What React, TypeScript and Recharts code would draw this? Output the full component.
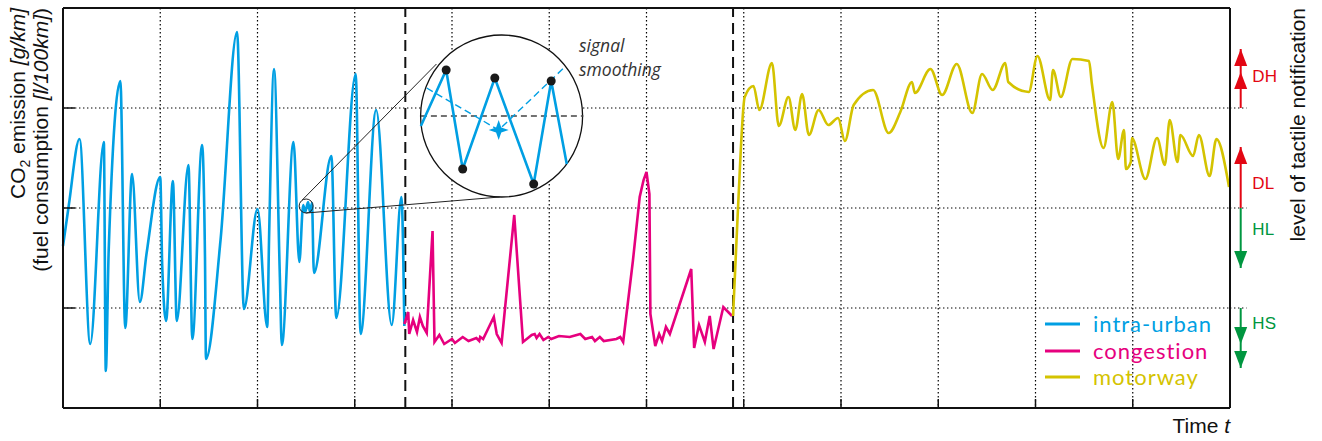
import React from 'react';
import {
  ComposedChart,
  Line,
  Scatter,
  XAxis,
  YAxis,
  CartesianGrid,
  ReferenceLine,
  ReferenceDot,
  Legend,
} from 'recharts';

const X_TICKS = [0, 1, 2, 3, 4, 5, 6, 7, 8, 9, 10, 11, 12];
const Y_TICKS = [0, 1, 2, 3, 4];

const SERIES_NAMES = ['intra-urban', 'congestion', 'motorway'];
const SERIES_COLORS = ['#009fe3', '#e6007e', '#d4c300'];

// [time, level]
const intraUrban: [number, number][] = [
  [0.0, 1.62], [0.06, 2.03], [0.17, 2.69], [0.28, 0.64], [0.42, 2.66], [0.44, 0.37], [0.47, 1.58],
  [0.59, 3.27], [0.64, 0.8], [0.71, 2.34], [0.79, 1.06], [0.86, 1.55], [1.0, 2.31], [1.02, 1.43],
  [1.06, 0.87], [1.13, 2.27], [1.17, 0.87], [1.29, 2.43], [1.33, 0.69], [1.43, 2.63], [1.46, 1.51],
  [1.47, 0.49], [1.62, 1.68], [1.79, 3.76], [1.86, 0.99], [2.0, 1.99], [2.1, 0.81], [2.12, 1.75],
  [2.17, 3.39], [2.23, 1.31], [2.25, 0.63], [2.37, 2.66], [2.43, 1.46], [2.47, 2.03], [2.49, 1.96],
  [2.52, 2.06], [2.54, 1.96], [2.56, 2.05], [2.58, 1.35], [2.76, 2.52], [2.81, 0.9], [3.01, 3.34],
  [3.06, 0.74], [3.22, 2.98], [3.38, 0.83], [3.48, 2.11], [3.51, 0.82],
];

const congestion: [number, number][] = [
  [3.51, 0.84], [3.55, 0.96], [3.56, 0.74], [3.6, 0.88], [3.64, 0.76], [3.67, 0.91], [3.7, 0.82],
  [3.74, 0.75], [3.8, 1.77], [3.82, 0.66], [3.87, 0.73], [3.92, 0.64], [4.0, 0.69], [4.03, 0.65],
  [4.11, 0.71], [4.17, 0.67], [4.25, 0.7], [4.28, 0.67], [4.29, 0.71], [4.32, 0.69], [4.37, 0.79],
  [4.43, 0.91], [4.46, 0.74], [4.51, 0.65], [4.64, 1.93], [4.73, 0.66], [4.82, 0.73], [4.85, 0.74],
  [4.87, 0.7], [4.9, 0.74], [4.94, 0.68], [4.99, 0.71], [5.02, 0.69], [5.1, 0.72], [5.21, 0.71],
  [5.32, 0.74], [5.37, 0.69], [5.44, 0.71], [5.47, 0.67], [5.52, 0.71], [5.56, 0.67], [5.69, 0.69],
  [5.73, 0.71], [5.76, 0.66], [5.86, 1.47], [5.93, 2.11], [5.97, 2.28], [6.0, 2.36], [6.03, 2.14],
  [6.04, 0.94], [6.09, 0.62], [6.13, 0.74], [6.16, 0.67], [6.2, 0.81], [6.24, 0.74], [6.46, 1.39],
  [6.49, 0.6], [6.54, 0.83], [6.6, 0.66], [6.65, 0.92], [6.69, 0.59], [6.79, 1.01], [6.88, 0.92],
];

const motorway: [number, number][] = [
  [6.89, 0.92], [6.94, 1.98], [7.01, 3.11], [7.1, 3.22], [7.16, 2.98], [7.29, 3.45], [7.36, 2.82],
  [7.46, 3.11], [7.53, 2.78], [7.6, 3.14], [7.67, 2.73], [7.77, 2.98], [7.87, 2.83], [7.97, 2.9],
  [8.04, 2.67], [8.13, 3.03], [8.33, 3.18], [8.49, 2.75], [8.61, 2.96], [8.73, 3.26], [8.76, 3.15],
  [8.92, 3.39], [9.04, 3.13], [9.19, 3.44], [9.35, 2.95], [9.45, 3.34], [9.56, 3.18], [9.69, 3.45],
  [9.72, 3.26], [9.93, 3.16], [10.02, 3.52], [10.15, 3.08], [10.18, 3.38], [10.26, 3.11],
  [10.38, 3.49], [10.55, 3.47], [10.58, 3.24], [10.7, 2.6], [10.79, 3.06], [10.85, 2.49],
  [10.91, 2.78], [10.93, 2.39], [10.98, 2.46], [10.99, 2.7], [11.13, 2.29], [11.25, 2.7],
  [11.33, 2.43], [11.38, 2.88], [11.46, 2.46], [11.49, 2.73], [11.62, 2.52], [11.68, 2.73],
  [11.79, 2.32], [11.86, 2.69], [11.99, 2.21],
];

const SECTION_BOUNDS = [3.52, 6.89];

// magnified detail ("signal smoothing")
const INSET_CENTER: [number, number] = [4.51, 2.92];
const INSET_SPOT: [number, number] = [2.5, 2.02];
const INSET_RAW: [number, number][] = [
  [3.68, 2.82], [3.94, 3.38], [4.11, 2.39], [4.44, 3.3], [4.84, 2.24], [5.02, 3.27], [5.18, 2.44],
];
const INSET_SAMPLES = INSET_RAW.slice(1, 6);
const INSET_SMOOTH: [number, number][] = [[3.74, 3.2], [4.48, 2.78], [5.17, 3.42]];
const INSET_MEAN: [number, number][] = [[4.48, 2.78]];
const INSET_BASE: [number, number][] = [[3.68, 2.92], [5.35, 2.92]];
const INSET_LINKS: [number, number][][] = [
  [[2.46, 2.08], [3.84, 3.44]],
  [[2.5, 1.95], [4.49, 2.11]],
];

// tactile notification levels (right margin)
const LEVEL_LABELS = ['DH', 'DL', 'HL', 'HS'];
const LEVEL_FROM = [3, 2, 2, 1];
const LEVEL_TO = [3.59, 2.61, 1.4, 0.4];
const LEVEL_HEADS = [[3.59, 3.36], [2.61], [1.4], [0.64, 0.4]];
const LEVEL_LABEL_Y = [3.32, 2.25, 1.79, 0.85];
const LEVEL_COLORS = ['#e30613', '#e30613', '#009640', '#009640'];
const LEVEL_X = 12.11;
const LEVEL_LABEL_X = 12.23;
const GRID_EXT = [1, 2, 3];

const FONT = '"Liberation Sans", Arial, sans-serif';
const LEGEND_FONT = 'Lato, "Open Sans", sans-serif';
const ITALIC_FONT = '"Open Sans", "Noto Sans", sans-serif';
const DOTS = '1.4 2.6';

const pts = (arr: [number, number][]) => arr.map(([x, y]) => ({ x, y }));
const blank = () => '';

const Head = ({ cx, cy, up, color }: any) => {
  const b = up ? cy + 17 : cy - 17;
  return <path d={`M${cx},${cy} L${cx + 6.5},${b} L${cx - 6.5},${b} Z`} fill={color} />;
};

const Star = ({ cx, cy }: any) => (
  <path
    d={`M${cx},${cy - 10} L${cx + 2.6},${cy - 2.6} L${cx + 10},${cy} L${cx + 2.6},${cy + 2.6} L${cx},${cy + 10} L${cx - 2.6},${cy + 2.6} L${cx - 10},${cy} L${cx - 2.6},${cy - 2.6} Z`}
    fill="#009fe3"
  />
);

const LegendBox = (props: any) => {
  const items = (props.payload || [])
    .filter((p: any) => SERIES_NAMES.includes(p.value))
    .sort((a: any, b: any) => SERIES_NAMES.indexOf(a.value) - SERIES_NAMES.indexOf(b.value));
  return (
    <div style={{ fontFamily: LEGEND_FONT, fontSize: 22 }}>
      {items.map((p: any) => (
        <div key={p.value} style={{ display: 'flex', alignItems: 'center', height: 26.5 }}>
          <svg width={35} height={4} style={{ marginRight: 13 }}>
            <line x1={0} y1={2} x2={35} y2={2} stroke={p.color} strokeWidth={3} />
          </svg>
          <span style={{ color: p.color, lineHeight: '26px', letterSpacing: 1 }}>{p.value}</span>
        </div>
      ))}
    </div>
  );
};

const frame = { stroke: '#111', strokeWidth: 2 };
const tickStroke = { stroke: '#111', strokeWidth: 1.5 };

export default function App() {
  const series = [intraUrban, congestion, motorway];
  return (
    <div style={{ position: 'absolute', left: 0, top: 0, width: 1322, height: 441, background: '#fff' }}>
      <ComposedChart width={1322} height={441} margin={{ top: 7, right: 92, bottom: 33, left: 63 }}>
        <CartesianGrid xAxisId="b" yAxisId="l" stroke="#000" strokeWidth={1.2} strokeDasharray={DOTS} />
        <XAxis xAxisId="b" dataKey="x" type="number" domain={[0, 12]} ticks={X_TICKS} height={1}
          mirror tickFormatter={blank} tickSize={9} tickLine={tickStroke} axisLine={frame} />
        <XAxis xAxisId="t" orientation="top" type="number" domain={[0, 12]} ticks={X_TICKS} height={1}
          tickFormatter={blank} tickLine={false} axisLine={frame} />
        <YAxis yAxisId="l" type="number" domain={[0, 4]} ticks={Y_TICKS} width={1}
          mirror tickFormatter={blank} tickSize={12} tickLine={tickStroke} axisLine={frame} />
        <YAxis yAxisId="r" orientation="right" type="number" domain={[0, 4]} ticks={Y_TICKS} width={1}
          mirror tickFormatter={blank} tickSize={10} tickLine={tickStroke} axisLine={frame} />

        <ReferenceDot xAxisId="b" yAxisId="l" x={INSET_CENTER[0]} y={INSET_CENTER[1]} r={81}
          fill="#fff" stroke="#111" strokeWidth={1.3} zIndex={-50} />

        {GRID_EXT.map((y) => (
          <ReferenceLine key={'g' + y} xAxisId="b" yAxisId="l" ifOverflow="visible"
            segment={[{ x: 12, y }, { x: 12.17, y }]} stroke="#000" strokeWidth={1.2} strokeDasharray={DOTS} />
        ))}

        {SECTION_BOUNDS.map((x) => (
          <ReferenceLine key={'d' + x} xAxisId="b" yAxisId="l" x={x} stroke="#111" strokeWidth={2}
            strokeDasharray="11 6" />
        ))}

        {series.map((s, i) => (
          <Line key={SERIES_NAMES[i]} xAxisId="b" yAxisId="l" data={pts(s)} dataKey="y"
            name={SERIES_NAMES[i]} stroke={SERIES_COLORS[i]} strokeWidth={2.6}
            type={i === 1 ? 'linear' : 'monotone'} dot={false} activeDot={false} isAnimationActive={false} />
        ))}

        {INSET_LINKS.map((seg, i) => (
          <ReferenceLine key={'k' + i} xAxisId="b" yAxisId="l" ifOverflow="visible"
            segment={seg.map(([x, y]) => ({ x, y }))} stroke="#222" strokeWidth={1} zIndex={450} />
        ))}
        <ReferenceDot xAxisId="b" yAxisId="l" x={INSET_SPOT[0]} y={INSET_SPOT[1]} r={7}
          fill="none" stroke="#222" strokeWidth={1} zIndex={450} />
        <ReferenceLine xAxisId="b" yAxisId="l" segment={INSET_BASE.map(([x, y]) => ({ x, y }))}
          stroke="#444" strokeWidth={1.3} strokeDasharray="6 4" zIndex={450} />
        <Line xAxisId="b" yAxisId="l" data={pts(INSET_SMOOTH)} dataKey="y" name="smooth" legendType="none"
          stroke="#009fe3" strokeWidth={1.4} strokeDasharray="7 4" type="linear" dot={false} activeDot={false}
          isAnimationActive={false} zIndex={460} />
        <Line xAxisId="b" yAxisId="l" data={pts(INSET_RAW)} dataKey="y" name="raw" legendType="none"
          stroke="#009fe3" strokeWidth={2.6} type="linear" dot={false} activeDot={false}
          isAnimationActive={false} zIndex={470} />
        <Scatter xAxisId="b" yAxisId="l" data={pts(INSET_SAMPLES)} dataKey="y" name="samples" legendType="none"
          isAnimationActive={false} zIndex={480}
          shape={(p: any) => <circle cx={p.cx} cy={p.cy} r={4.5} fill="#1a1a1a" />} />
        <Scatter xAxisId="b" yAxisId="l" data={pts(INSET_MEAN)} dataKey="y" name="mean" legendType="none"
          isAnimationActive={false} zIndex={480} shape={(p: any) => <Star cx={p.cx} cy={p.cy} />} />

        {LEVEL_LABELS.map((lab, i) => (
          <ReferenceLine key={'a' + lab} xAxisId="b" yAxisId="l" ifOverflow="visible"
            segment={[{ x: LEVEL_X, y: LEVEL_FROM[i] }, { x: LEVEL_X, y: LEVEL_TO[i] }]}
            stroke={LEVEL_COLORS[i]} strokeWidth={2} />
        ))}
        {LEVEL_LABELS.flatMap((lab, i) =>
          LEVEL_HEADS[i].map((y, j) => (
            <ReferenceDot key={'h' + lab + j} xAxisId="b" yAxisId="l" ifOverflow="visible" x={LEVEL_X} y={y} r={1}
              shape={(p: any) => (
                <Head cx={p.cx} cy={p.cy} up={LEVEL_TO[i] > LEVEL_FROM[i]} color={LEVEL_COLORS[i]} />
              )} />
          )),
        )}
        {LEVEL_LABELS.map((lab, i) => (
          <ReferenceDot key={'t' + lab} xAxisId="b" yAxisId="l" ifOverflow="visible" x={LEVEL_LABEL_X}
            y={LEVEL_LABEL_Y[i]} r={1}
            shape={(p: any) => (
              <text x={p.cx} y={p.cy} dy="0.36em" fontSize={17} fontFamily={FONT} fill={LEVEL_COLORS[i]}>
                {lab}
              </text>
            )} />
        ))}

        <Legend layout="vertical" align="center" verticalAlign="middle" content={LegendBox}
          wrapperStyle={{ position: 'absolute', left: 1045, top: 311, width: 'auto', height: 'auto' }} />
      </ComposedChart>

      <svg width={1322} height={441} style={{ position: 'absolute', left: 0, top: 0, pointerEvents: 'none' }}
        fontFamily={FONT} fill="#111">
        <text transform="translate(25,8) rotate(-90)" textAnchor="end" fontSize={21}>
          CO<tspan dy={5} fontSize={14}>2</tspan>
          <tspan dy={-5}> emission </tspan>
          <tspan fontStyle="italic">[g/km]</tspan>
        </text>
        <text transform="translate(48,8) rotate(-90)" textAnchor="end" fontSize={21}>
          (fuel consumption <tspan fontStyle="italic">[l/100km]</tspan>)
        </text>
        <text transform="translate(1305,8) rotate(-90)" textAnchor="end" fontSize={21}>
          level of tactile notification
        </text>
        <text x={1230} y={433} textAnchor="end" fontSize={21}>
          Time <tspan fontStyle="italic">t</tspan>
        </text>
        <text x={579} y={52} fontSize={17.5} fontStyle="italic" fontFamily={ITALIC_FONT} fill="#333">
          signal
        </text>
        <text x={579} y={76} fontSize={17.5} fontStyle="italic" fontFamily={ITALIC_FONT} fill="#333">
          smoothing
        </text>
      </svg>
    </div>
  );
}
